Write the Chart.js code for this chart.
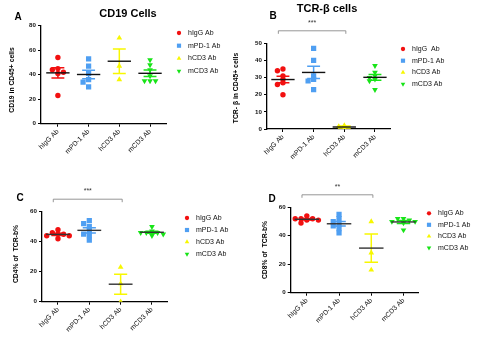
<!DOCTYPE html>
<html>
<head>
<meta charset="utf-8">
<script src="https://cdn.jsdelivr.net/npm/chart.js@4.4.1/dist/chart.umd.min.js"></script>
<style>
html, body { margin: 0; padding: 0; background: #fff; }
#wrap { position: relative; width: 483px; height: 342px; overflow: hidden; }
#wrap canvas { position: absolute; left: 0; top: 0; }
</style>
</head>
<body>
<div id="wrap">
	<canvas id="pA" width="483" height="342"></canvas>
	<canvas id="pB" width="483" height="342"></canvas>
	<canvas id="pC" width="483" height="342"></canvas>
	<canvas id="pD" width="483" height="342"></canvas>
</div>
<script>
// groups on the x axis and in the legends
const groups = ['hIgG Ab', 'mPD-1 Ab', 'hCD3 Ab', 'mCD3 Ab'];
const legendB = ['hIgG  Ab', 'mPD-1 Ab', 'hCD3 Ab', 'mCD3 Ab'];

// A: CD19 in CD45+ cells
const cd19_hIgG = [54, 45, 44, 42, 41, 23];
const cd19_mPD1 = [53, 47, 41, 36, 34, 30];
const cd19_hCD3 = [70, 47, 36];
const cd19_mCD3 = [52, 48, 44, 39, 35, 35, 35];
const ticksA = [0, 20, 40, 60, 80];

// B: TCR-b in CD45+ cells
const tcr_hIgG = [35, 34, 31, 29, 27, 26, 20];
const tcr_mPD1 = [47, 40, 31, 29, 28, 23];
const tcr_hCD3 = [2, 1.5, 0];
const tcr_mCD3 = [37, 33, 31, 30, 29, 28, 23];
const ticksB = [0, 10, 20, 30, 40, 50];

// C: CD4% of TCR-b%
const cd4_hIgG = [48, 46, 45, 45, 44, 44, 42];
const cd4_mPD1 = [54, 52, 50, 47, 45, 44, 41];
const cd4_hCD3 = [23, 12, 0];
const cd4_mCD3 = [50, 47, 46, 46, 46, 45, 44];
const ticksC = [0, 20, 40, 60];

// D: CD8% of TCR-b%
const cd8_hIgG = [54, 52, 52, 52, 51, 51, 49];
const cd8_mPD1 = [55, 52, 50, 48, 47, 45, 42];
const cd8_hCD3 = [50, 28, 16];
const cd8_mCD3 = [52, 52, 51, 50, 50, 49, 44];
const ticksD = [0, 20, 40, 60];

const colors = ['#f21010', '#4f9ff2', '#f7f700', '#18e418'];
const styles = [
	{ pointStyle: 'circle', radius: 2.7, rotation: 0 },
	{ pointStyle: 'rect', radius: 3.7, rotation: 0 },
	{ pointStyle: 'triangle', radius: 3.3, rotation: 0 },
	{ pointStyle: 'triangle', radius: 3.3, rotation: 180 }
];
const FONT = "'Liberation Sans', Arial, sans-serif";

// simple beeswarm so that close points spread sideways
function swarm(values, yTol, step) {
	const placed = [];
	return values.map(v => {
		for (let k = 0; k < 9; k++) {
			const off = (k % 2 ? -1 : 1) * Math.ceil(k / 2) * step;
			if (placed.every(p => Math.abs(p.y - v) >= yTol || Math.abs(p.x - off) >= step * 0.9)) {
				placed.push({ x: off, y: v });
				return off;
			}
		}
		return 0;
	});
}

// mean line + SEM bars
const summaryPlugin = {
	id: 'summary',
	afterDatasetsDraw(chart, args, opts) {
		const { ctx, scales: { x, y } } = chart;
		chart.data.datasets.forEach((ds, i) => {
			const vals = ds.data.map(p => p.y);
			const n = vals.length;
			const m = vals.reduce((a, b) => a + b, 0) / n;
			const sd = Math.sqrt(vals.reduce((a, b) => a + (b - m) * (b - m), 0) / (n - 1));
			const sem = sd / Math.sqrt(n);
			const cx = x.getPixelForValue(i);
			const capW = x.getPixelForValue(i + 0.21) - cx;
			const meanW = x.getPixelForValue(i + 0.38) - cx;
			const yHi = y.getPixelForValue(m + sem), yLo = y.getPixelForValue(m - sem), yM = y.getPixelForValue(m);
			ctx.save();
			ctx.strokeStyle = ds.backgroundColor;
			ctx.lineWidth = 1.5;
			ctx.beginPath();
			ctx.moveTo(cx, yHi); ctx.lineTo(cx, yLo);
			ctx.moveTo(cx - capW, yHi); ctx.lineTo(cx + capW, yHi);
			ctx.moveTo(cx - capW, yLo); ctx.lineTo(cx + capW, yLo);
			ctx.stroke();
			ctx.strokeStyle = opts.meanColor;
			ctx.lineWidth = 1.4;
			ctx.beginPath();
			ctx.moveTo(cx - meanW, yM); ctx.lineTo(cx + meanW, yM);
			ctx.stroke();
			ctx.restore();
		});
	}
};

// letters, titles, y title, legend and significance bracket
const panelPlugin = {
	id: 'panel',
	afterDraw(chart, args, o) {
		const { ctx, chartArea: ca, scales: { x } } = chart;
		ctx.save();
		ctx.fillStyle = '#000';
		ctx.textBaseline = 'middle';
		ctx.font = 'bold 10px ' + FONT;
		ctx.textAlign = 'center';
		ctx.fillText(o.letter, o.letterX, o.letterY);
		if (o.title) {
			ctx.font = 'bold 11px ' + FONT;
			ctx.fillText(o.title, o.titleX, o.titleY);
		}
		ctx.save();
		ctx.translate(o.yTitleX, o.yTitleY);
		ctx.rotate(-Math.PI / 2);
		ctx.font = 'bold 6.8px ' + FONT;
		ctx.fillText(o.yTitle, 0, 0);
		ctx.restore();
		// legend
		ctx.textAlign = 'left';
		ctx.font = '7px ' + FONT;
		o.legend.forEach((lab, i) => {
			const ly = o.legendY + i * o.legendGap;
			ctx.fillStyle = colors[i];
			Chart.helpers.drawPoint(ctx, { pointStyle: styles[i].pointStyle, radius: styles[i].radius * 0.8, rotation: styles[i].rotation, borderWidth: 0 }, o.legendX, ly);
			ctx.fillStyle = '#111';
			ctx.fillText(lab, o.legendX + 9, ly);
		});
		// bracket between hIgG and hCD3
		if (o.stars) {
			const x0 = x.getPixelForValue(-0.15), x1 = x.getPixelForValue(2.05);
			const by = ca.top - 12.5;
			ctx.strokeStyle = '#8a8a8a';
			ctx.lineWidth = 0.9;
			ctx.beginPath();
			ctx.moveTo(x0, by + 3); ctx.lineTo(x0, by); ctx.lineTo(x1, by); ctx.lineTo(x1, by + 3);
			ctx.stroke();
			ctx.fillStyle = '#333';
			ctx.textAlign = 'center';
			ctx.font = '7px ' + FONT;
			ctx.fillText(o.stars, (x0 + x1) / 2, by - 8);
		}
		ctx.restore();
	}
};

function makePanel(id, series, ticks, area, xr, panel, meanColor) {
	const yMax = ticks[ticks.length - 1];
	const datasets = series.map((vals, i) => {
		const offs = swarm(vals, yMax * 0.04, 0.18);
		return {
			label: groups[i],
			data: vals.map((v, j) => ({ x: i + offs[j], y: v })),
			backgroundColor: colors[i],
			borderWidth: 0,
			pointStyle: styles[i].pointStyle,
			pointRadius: styles[i].radius,
			pointRotation: styles[i].rotation
		};
	});
	new Chart(document.getElementById(id), {
		type: 'scatter',
		data: { datasets: datasets },
		options: {
			responsive: false,
			animation: false,
			layout: {
				padding: { left: area.left - 20, right: 483 - area.right, top: area.top, bottom: 342 - area.bottom - 40 }
			},
			plugins: {
				legend: { display: false },
				tooltip: { enabled: false },
				summary: { meanColor: meanColor },
				panel: panel
			},
			scales: {
				x: {
					type: 'linear',
					min: xr[0], max: xr[1],
					afterFit: s => { s.height = 40; },
					afterBuildTicks: s => { s.ticks = groups.map((g, i) => ({ value: i })); },
					grid: { drawOnChartArea: false, drawTicks: true, tickLength: 3, color: '#000', lineWidth: 1 },
					border: { color: '#000', width: 1.3 },
					ticks: {
						autoSkip: false, minRotation: 45, maxRotation: 45, padding: 1,
						color: '#111', font: { family: FONT, size: 6.8 },
						callback: v => groups[v]
					}
				},
				y: {
					min: 0, max: yMax,
					afterFit: s => { s.width = 20; },
					afterBuildTicks: s => { s.ticks = ticks.map(t => ({ value: t })); },
					grid: { drawOnChartArea: false, drawTicks: true, tickLength: 3, color: '#000', lineWidth: 1 },
					border: { color: '#000', width: 1.3 },
					ticks: { padding: 2, color: '#111', font: { family: FONT, size: 6.2, weight: 'bold' } }
				}
			}
		},
		plugins: [summaryPlugin, panelPlugin]
	});
}

makePanel('pA', [cd19_hIgG, cd19_mPD1, cd19_hCD3, cd19_mCD3], ticksA,
	{ left: 41, right: 166, top: 25.7, bottom: 123.7 }, [-0.55, 3.52],
	{ letter: 'A', letterX: 18, letterY: 17, title: 'CD19 Cells', titleX: 128, titleY: 14,
	  yTitle: 'CD19 in CD45+ cells', yTitleX: 12, yTitleY: 80,
	  legend: groups, legendX: 179, legendY: 33, legendGap: 12.7 }, '#111');

makePanel('pB', [tcr_hIgG, tcr_mPD1, tcr_hCD3, tcr_mCD3], ticksB,
	{ left: 267, right: 390, top: 43.3, bottom: 129 }, [-0.52, 3.49],
	{ letter: 'B', letterX: 273, letterY: 16, title: 'TCR-β cells', titleX: 327, titleY: 9,
	  yTitle: 'TCR- β in CD45+ cells', yTitleX: 236, yTitleY: 88,
	  legend: legendB, legendX: 403, legendY: 49, legendGap: 11.7, stars: '***' }, '#111');

makePanel('pC', [cd4_hIgG, cd4_mPD1, cd4_hCD3, cd4_mCD3], ticksC,
	{ left: 42, right: 167, top: 211.7, bottom: 301.7 }, [-0.51, 3.48],
	{ letter: 'C', letterX: 20, letterY: 198,
	  yTitle: 'CD4% of  TCR-b%', yTitleX: 16, yTitleY: 254,
	  legend: groups, legendX: 187, legendY: 218, legendGap: 12, stars: '***' }, '#333');

makePanel('pD', [cd8_hIgG, cd8_mPD1, cd8_hCD3, cd8_mCD3], ticksD,
	{ left: 290.7, right: 418, top: 207.3, bottom: 292.7 }, [-0.5, 3.45],
	{ letter: 'D', letterX: 272, letterY: 199,
	  yTitle: 'CD8% of  TCR-b%', yTitleX: 265, yTitleY: 250,
	  legend: groups, legendX: 429, legendY: 213.3, legendGap: 11.5, stars: '**' }, '#333');
</script>
</body>
</html>
